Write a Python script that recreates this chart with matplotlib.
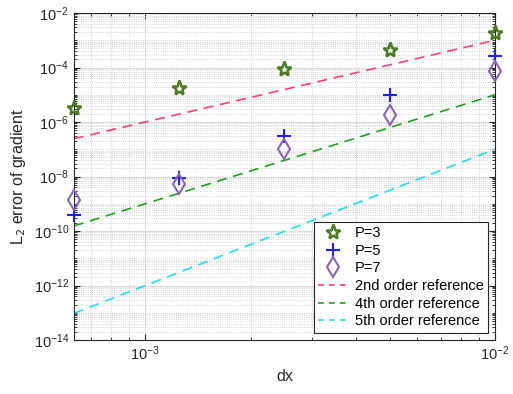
import numpy as np
import matplotlib.pyplot as plt
from matplotlib.ticker import LogLocator, NullFormatter

plt.rcParams['font.family'] = ['Liberation Sans', 'DejaVu Sans']

dx = [0.000625, 0.00125, 0.0025, 0.005, 0.01]
err_p3 = [3.2e-6, 1.7e-5, 9.0e-5, 4.5e-4, 1.8e-3]
err_p5 = [4.0e-10, 9.0e-9, 3.0e-7, 1.0e-5, 2.6e-4]
err_p7 = [1.4e-9, 5.5e-9, 1.0e-7, 1.8e-6, 7.5e-5]
ref_2nd = [2.44e-7, 1.95e-6, 1.56e-5, 1.25e-4, 1.0e-3]
ref_4th = [1.53e-10, 2.44e-9, 3.91e-8, 6.25e-7, 1.0e-5]
ref_5th = [9.5e-14, 3.05e-12, 9.77e-11, 3.13e-9, 1.0e-7]

fig = plt.figure(figsize=(5.13, 3.94), dpi=100)
ax = fig.add_axes([0.144, 0.137, 0.821, 0.830])

ax.loglog(dx, err_p3, linestyle='none', marker='*', markersize=11, markerfacecolor='none',
          markeredgecolor='#4a7a22', markeredgewidth=1.8, label='P=3', clip_on=False, zorder=5)
ax.loglog(dx, err_p5, linestyle='none', marker='+', markersize=10,
          color='#2020f0', markeredgewidth=1.5, label='P=5', clip_on=False, zorder=5)
ax.loglog(dx, err_p7, linestyle='none', marker='d', markersize=10, markerfacecolor='none',
          markeredgecolor='#8a66b0', markeredgewidth=1.5, label='P=7', clip_on=False, zorder=5)
ax.loglog(dx, ref_2nd, '--', color='#ff3d7f', lw=1.2, dashes=(6, 4), label='2nd order reference')
ax.loglog(dx, ref_4th, '--', color='#22a022', lw=1.2, dashes=(6, 4), label='4th order reference')
ax.loglog(dx, ref_5th, '--', color='#22ddee', lw=1.2, dashes=(6, 4), label='5th order reference')

ax.set_xlim(0.000625, 0.01)
ax.set_ylim(1e-14, 1e-2)
ax.set_yticks([1e-14, 1e-12, 1e-10, 1e-8, 1e-6, 1e-4, 1e-2])
ax.yaxis.set_minor_locator(LogLocator(base=10, subs=np.arange(1, 10), numticks=100))
ax.yaxis.set_minor_formatter(NullFormatter())
ax.grid(True, which='major', color='#dcdcdc', linestyle='-', lw=0.8)
ax.grid(True, which='minor', color='#c8c8c8', linestyle=':', lw=0.6)
ax.set_axisbelow(True)
ax.tick_params(which='both', direction='in', top=True, right=True, labelsize=10.5, colors='#262626')
ax.tick_params(which='major', length=4)
ax.tick_params(which='minor', length=2)
for s in ax.spines.values():
    s.set_color('#262626')

ax.set_xlabel('dx', fontsize=11.5, color='#262626')
ax.set_ylabel('L$_2$ error of gradient', fontsize=11.5, color='#262626')

leg = ax.legend(loc='lower right', fontsize=10.5, fancybox=False, edgecolor='#262626',
                handlelength=2.0, borderaxespad=0.5, labelspacing=0.25, borderpad=0.3,
                handletextpad=0.5, framealpha=1)
leg.get_frame().set_linewidth(0.8)
for h in leg.get_lines()[3:]:
    h.set_dashes((3.5, 3))

fig.savefig('out.png', dpi=100)
